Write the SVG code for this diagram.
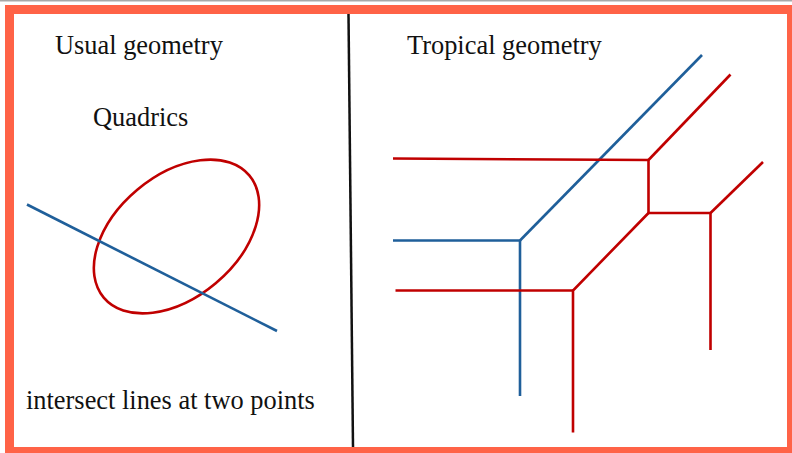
<svg xmlns="http://www.w3.org/2000/svg" width="792" height="453" viewBox="0 0 792 453">
<style>
.t{font-family:"Liberation Serif","Times New Roman",serif;font-size:26.4px;fill:#111}
.r{fill:none;stroke:#C00000;stroke-width:2.6;stroke-linejoin:miter}
.b{fill:none;stroke:#1F5F9A;stroke-width:2.6;stroke-linejoin:miter}
</style>
<rect x="0" y="0" width="792" height="453" fill="#fff"/>
<rect x="0" y="0" width="792" height="1.5" fill="#a8a8a8"/>
<rect id="frame" x="9.5" y="9.5" width="782" height="442" fill="none" stroke="#FF6347" stroke-width="9"/>
<g id="divider"><line x1="348.5" y1="14" x2="353" y2="447" stroke="#111" stroke-width="2.5"/></g>
<g id="labels">
<text class="t" x="55" y="54">Usual geometry</text>
<text class="t" x="93" y="126">Quadrics</text>
<text class="t" x="26" y="409">intersect lines at two points</text>
<text class="t" x="407" y="54">Tropical geometry</text>
</g>
<g id="usual">
<ellipse id="quadric" class="r" cx="176.5" cy="236.5" rx="95" ry="61" transform="rotate(-40 176.5 236.5)" stroke-width="3"/>
<line id="line" class="b" x1="27" y1="204.5" x2="277" y2="331" stroke-width="3"/>
</g>
<g id="connectors">
<polyline id="tropical-line" class="b" points="393,240.5 520,240.5 520,396"/>
<line class="b" x1="520" y1="240.5" x2="702" y2="55"/>
<polyline id="tropical-quadric" class="r" points="393,158.5 648.5,160 648.5,213 710.5,213 710.5,350"/>
<line class="r" x1="648.5" y1="160" x2="730.5" y2="74.5"/>
<line class="r" x1="710.5" y1="213" x2="763" y2="162"/>
<polyline class="r" points="648.5,213 573,290.5 573,432.5"/>
<line class="r" x1="395.5" y1="290.5" x2="573" y2="290.5"/>
</g>
</svg>
